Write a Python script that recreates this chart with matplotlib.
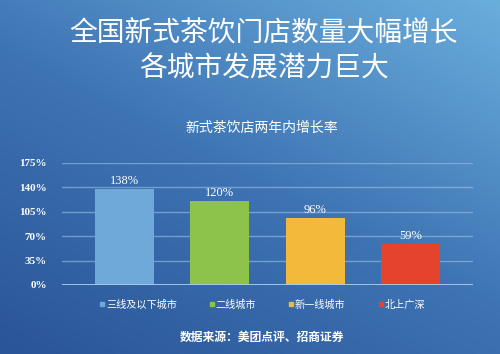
import numpy as np
import matplotlib
matplotlib.use("Agg")
import matplotlib.pyplot as plt
from matplotlib.colors import LinearSegmentedColormap

plt.rcParams['font.family'] = ['Noto Sans CJK SC', 'DejaVu Sans']

categories = ["三线及以下城市", "二线城市", "新一线城市", "北上广深"]
values = [138, 120, 96, 59]
value_labels = ["138%", "120%", "96%", "59%"]
yticks = [0, 35, 70, 105, 140, 175]
ytick_labels = ["0%", "35%", "70%", "105%", "140%", "175%"]
colors = ["#6fa9d9", "#8dc24b", "#f2b93b", "#e5432d"]

fig = plt.figure(figsize=(5.0, 3.54), dpi=100)

# gradient background
bg = fig.add_axes([0, 0, 1, 1], zorder=-10)
bg.set_axis_off()
nx, ny = 200, 150
X, Y = np.meshgrid(np.linspace(0, 1, nx), np.linspace(1, 0, ny))
G = 0.55 * X + 0.75 * Y
G = (G - G.min()) / (G.max() - G.min())
cmap = LinearSegmentedColormap.from_list("bg", ["#2a5597", "#3e74b4", "#6aaedc"])
bg.imshow(G, cmap=cmap, aspect="auto", extent=[0, 1, 0, 1], origin="upper")
bg.set_xlim(0, 1); bg.set_ylim(0, 1)

ax = fig.add_axes([0.124, 0.195, 0.822, 0.345])
ax.patch.set_alpha(0)
x = np.arange(len(categories))
bars = ax.bar(x, values, width=0.62, color=colors, zorder=3)
ax.set_xlim(-0.656, 3.656)
ax.set_ylim(0, 175)
ax.set_yticks(yticks)
ax.set_yticklabels(ytick_labels, family=['Liberation Serif'], fontsize=8,
                   color="white", fontweight="bold")
ax.set_xticks([])
ax.tick_params(axis='y', length=0, pad=11)
for s in ax.spines.values():
    s.set_visible(False)
for t in yticks[1:]:
    ax.axhline(t, color="#9cc0e2", lw=1.0, alpha=0.6, zorder=1)
ax.axhline(0, color="#a9cdee", lw=2.0, zorder=4)
for xi, v, lab in zip(x, values, value_labels):
    ax.text(xi, v + 2.5, lab, ha="center", va="bottom", color="white",
            family=['Liberation Serif'], fontsize=9)

fig.text(0.528, 0.905, "全国新式茶饮门店数量大幅增长", ha="center", va="center",
         color="white", fontsize=20)
fig.text(0.528, 0.805, "各城市发展潜力巨大", ha="center", va="center",
         color="white", fontsize=20)
fig.text(0.524, 0.638, "新式茶饮店两年内增长率", ha="center", va="center",
         color="white", fontsize=10)

# legend
leg_sq_x = [0.206, 0.424, 0.582, 0.762]
for sx, c, lab in zip(leg_sq_x, colors, categories):
    fig.patches.append(plt.Rectangle((sx - 0.005, 0.135), 0.008, 0.011,
                                     transform=fig.transFigure, color=c))
    fig.text(sx + 0.007, 0.139, lab, ha="left", va="center", color="white", fontsize=7.3)

fig.text(0.524, 0.048, "数据来源：美团点评、招商证券", ha="center", va="center",
         color="white", fontsize=8.5, fontweight="bold")

fig.savefig("out.png", dpi=100)
